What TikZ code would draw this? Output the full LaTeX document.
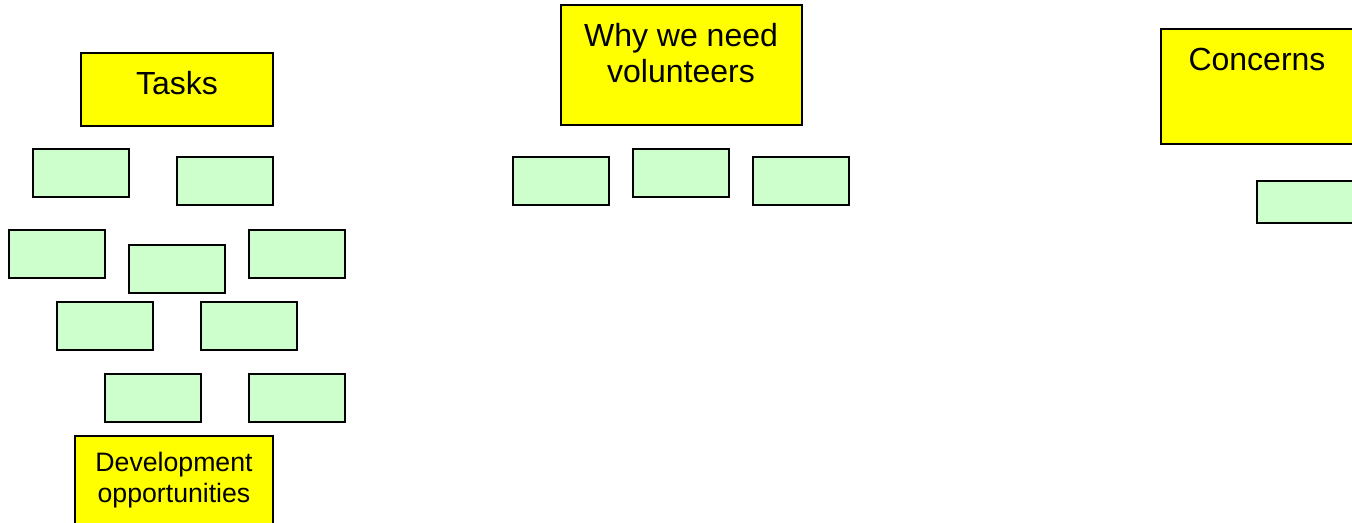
\documentclass[tikz,border=0pt]{standalone}
\usepackage{fontspec}
\setmainfont{Liberation Sans}
\begin{document}
\begin{tikzpicture}[x=0.75pt,y=-0.75pt,
  box/.style={draw=black,line width=1pt,inner sep=0pt,minimum width=72pt,minimum height=36pt},
  head/.style={draw=black,line width=1pt,inner sep=0pt},
  bigtxt/.style={anchor=base,inner sep=0pt,font=\fontsize{24pt}{27pt}\selectfont},
  smalltxt/.style={anchor=base,inner sep=0pt,font=\fontsize{20pt}{23pt}\selectfont}]
\definecolor{lgreen}{RGB}{204,255,204}
\definecolor{hyellow}{RGB}{255,255,0}
\useasboundingbox (0,0) rectangle (1352,522);
\tikzset{box/.append style={fill=lgreen},head/.append style={fill=hyellow}}
% headers
\node[head,minimum width=144pt,minimum height=54.75pt] (tasks) at (177,89.5) {};
\node[bigtxt] (taskst) at (177,94) {Tasks};
\node[head,minimum width=180.75pt,minimum height=90pt] (why) at (681.5,65) {};
\node[bigtxt] (whyt1) at (681,46) {Why we need};
\node[bigtxt] (whyt2) at (681,82) {volunteers};
\node[head,minimum width=144pt,minimum height=86.25pt] (conc) at (1257,86.5) {};
\node[bigtxt] (conct) at (1257,70) {Concerns};
\node[head,minimum width=148.5pt,minimum height=78pt] (dev) at (174,488) {};
\node[smalltxt] (devt1) at (174,471) {Development};
\node[smalltxt] (devt2) at (174,502) {opportunities};
% task boxes
\node[box] (g1) at (81,173) {};
\node[box] (g2) at (225,181) {};
\node[box] (g3) at (57,254) {};
\node[box] (g4) at (177,269) {};
\node[box] (g5) at (297,254) {};
\node[box] (g6) at (105,326) {};
\node[box] (g7) at (249,326) {};
\node[box] (g8) at (153,398) {};
\node[box] (g9) at (297,398) {};
% why boxes
\node[box] (w1) at (561,181) {};
\node[box] (w2) at (681,173) {};
\node[box] (w3) at (801,181) {};
% concerns box
\node[box,minimum height=31.5pt] (c1) at (1305,202) {};
\end{tikzpicture}
\end{document}
